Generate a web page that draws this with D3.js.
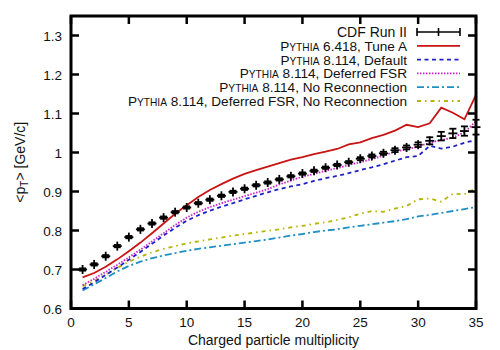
<!DOCTYPE html>
<html><head><meta charset="utf-8">
<script src="https://cdn.jsdelivr.net/npm/d3@7"></script>
<style>body{margin:0;background:#fff}svg{display:block}text{font-family:"Liberation Sans",Arial,sans-serif;fill:#111}</style>
</head><body><svg id="c" width="500" height="350"></svg>
<script>
const mult = d3.range(1, 36);
const cdf = [0.700,0.713,0.734,0.760,0.783,0.803,0.818,0.833,0.847,0.859,0.870,0.879,0.889,0.899,0.907,0.916,0.923,0.931,0.939,0.946,0.953,0.961,0.968,0.975,0.984,0.991,0.998,1.006,1.013,1.020,1.030,1.042,1.049,1.055,1.065];
const cdfErr = [0.003,0.003,0.003,0.003,0.003,0.003,0.003,0.003,0.003,0.003,0.003,0.003,0.003,0.003,0.003,0.003,0.003,0.003,0.003,0.003,0.003,0.003,0.003,0.003,0.004,0.004,0.004,0.005,0.005,0.006,0.009,0.011,0.012,0.012,0.019];
const tuneA = [0.680,0.691,0.707,0.726,0.747,0.769,0.793,0.818,0.843,0.865,0.886,0.904,0.919,0.933,0.945,0.955,0.964,0.973,0.982,0.988,0.996,1.002,1.009,1.021,1.026,1.037,1.045,1.056,1.071,1.065,1.075,1.115,1.102,1.085,1.148];
const def8 = [0.650,0.667,0.686,0.705,0.725,0.745,0.766,0.787,0.807,0.825,0.839,0.851,0.861,0.870,0.880,0.889,0.898,0.906,0.913,0.919,0.927,0.934,0.940,0.947,0.955,0.962,0.970,0.979,0.988,0.991,1.017,1.010,1.015,1.025,1.032];
const dfsr = [0.660,0.676,0.694,0.712,0.731,0.751,0.772,0.793,0.814,0.833,0.848,0.860,0.870,0.879,0.888,0.897,0.906,0.918,0.928,0.938,0.945,0.953,0.960,0.968,0.975,0.983,0.992,1.002,1.008,1.015,1.025,1.032,1.038,1.052,1.080];
const noRec = [0.646,0.662,0.678,0.695,0.709,0.720,0.729,0.736,0.742,0.748,0.753,0.757,0.761,0.765,0.769,0.773,0.777,0.782,0.787,0.791,0.796,0.800,0.803,0.808,0.812,0.816,0.820,0.824,0.829,0.836,0.840,0.845,0.850,0.855,0.860];
const dfsrNoRec = [0.657,0.671,0.687,0.704,0.720,0.733,0.744,0.753,0.760,0.767,0.772,0.777,0.782,0.787,0.791,0.795,0.799,0.803,0.808,0.812,0.817,0.821,0.827,0.834,0.843,0.850,0.848,0.856,0.863,0.880,0.882,0.874,0.894,0.893,0.908];
const xTicks = [0,5,10,15,20,25,30,35];
const yTicks = [0.6,0.7,0.8,0.9,1.0,1.1,1.2,1.3];

const svg = d3.select("#c");
const L = 71, R = 476, T = 16, B = 308.5;
const x = d3.scaleLinear().domain([0, 35]).range([L, R]);
const y = d3.scaleLinear().domain([0.6, 1.35]).range([B, T]);

const series = [
  {vals: tuneA, color: "#c81414", dash: null, label: ["6.418, Tune A"]},
  {vals: def8, color: "#2020c8", dash: "4,3.5", label: ["8.114, Default"]},
  {vals: dfsr, color: "#cc22cc", dash: "1.5,1.5", label: ["8.114, Deferred FSR"]},
  {vals: noRec, color: "#1f8fc4", dash: "7,3,2,3", label: ["8.114, No Reconnection"]},
  {vals: dfsrNoRec, color: "#b4b40a", dash: "4,4,1.5,4", label: ["8.114, Deferred FSR, No Reconnection"]}
];

svg.append("clipPath").attr("id","pc").append("rect")
  .attr("x", L).attr("y", T).attr("width", R-L).attr("height", B-T);
const g = svg.append("g").attr("clip-path","url(#pc)");
const line = d3.line().x((d,i)=>x(mult[i])).y(d=>y(d));
series.slice().reverse().forEach(s=>{
  g.append("path").attr("d", line(s.vals)).attr("fill","none")
   .attr("stroke", s.color).attr("stroke-width", 1.8)
   .attr("stroke-dasharray", s.dash);
});

// CDF data with error bars
const pts = svg.append("g").attr("stroke","#000").attr("stroke-width",1.8).attr("fill","none");
cdf.forEach((v,i)=>{
  const cx = x(mult[i]), cy = y(v);
  const e = Math.abs(y(v+cdfErr[i]) - cy);
  pts.append("line").attr("x1",cx-4.5).attr("x2",cx+4.5).attr("y1",cy).attr("y2",cy);
  pts.append("line").attr("x1",cx).attr("x2",cx).attr("y1",cy-Math.max(e,4.5)).attr("y2",cy+Math.max(e,4.5));
  pts.append("line").attr("x1",cx-3.5).attr("x2",cx+3.5).attr("y1",cy-e).attr("y2",cy-e);
  pts.append("line").attr("x1",cx-3.5).attr("x2",cx+3.5).attr("y1",cy+e).attr("y2",cy+e);
});

// axes: ticks inward on all sides
const ax = svg.append("g");
const tk = 8;
xTicks.forEach(t=>{
  ax.append("line").attr("x1",x(t)).attr("x2",x(t)).attr("y1",B).attr("y2",B-tk).attr("stroke","#000").attr("stroke-width",2.5);
  ax.append("line").attr("x1",x(t)).attr("x2",x(t)).attr("y1",T).attr("y2",T+tk).attr("stroke","#000").attr("stroke-width",2.5);
  ax.append("text").attr("x",x(t)).attr("y",327).attr("text-anchor","middle").attr("font-size",13.5).text(d3.format("d")(t));
});
yTicks.forEach(t=>{
  ax.append("line").attr("x1",L).attr("x2",L+tk).attr("y1",y(t)).attr("y2",y(t)).attr("stroke","#000").attr("stroke-width",2.5);
  ax.append("line").attr("x1",R).attr("x2",R-tk).attr("y1",y(t)).attr("y2",y(t)).attr("stroke","#000").attr("stroke-width",2.5);
  ax.append("text").attr("x",62).attr("y",y(t)+5).attr("text-anchor","end").attr("font-size",13.5).text(d3.format("~g")(t));
});
ax.append("rect").attr("x",L).attr("y",T).attr("width",R-L).attr("height",B-T)
  .attr("fill","none").attr("stroke","#000").attr("stroke-width",3);

// axis titles
svg.append("text").attr("x",(L+R)/2).attr("y",345).attr("text-anchor","middle").attr("font-size",14).text("Charged particle multiplicity");
const yl = svg.append("text").attr("transform",`translate(25,${(T+B)/2}) rotate(-90)`).attr("text-anchor","middle").attr("font-size",14);
yl.append("tspan").text("<p");
yl.append("tspan").attr("font-size",10).attr("dy",3).text("T");
yl.append("tspan").attr("dy",-3).text("> [GeV/c]");

// legend
const lg = svg.append("g");
const lx = 407, sx1 = 417, sx2 = 460, base0 = 37, dy = 13.8;
lg.append("text").attr("x",lx).attr("y",base0).attr("text-anchor","end").attr("font-size",14).text("CDF Run II");
const cyL = base0 - 5;
[[sx1,sx2,cyL,cyL],[sx1,sx1,cyL-4,cyL+4],[sx2,sx2,cyL-4,cyL+4],[(sx1+sx2)/2,(sx1+sx2)/2,cyL-4,cyL+4]].forEach(a=>{
  lg.append("line").attr("x1",a[0]).attr("x2",a[1]).attr("y1",a[2]).attr("y2",a[3]).attr("stroke","#000").attr("stroke-width",1.6);
});
series.forEach((s,i)=>{
  const b = base0 + dy*(i+1);
  const t = lg.append("text").attr("x",lx).attr("y",b).attr("text-anchor","end").attr("font-size",13.6);
  t.append("tspan").text("P");
  t.append("tspan").attr("font-size",10.2).text("YTHIA");
  t.append("tspan").text(" " + s.label[0]);
  lg.append("line").attr("x1",sx1).attr("x2",sx2).attr("y1",b-5).attr("y2",b-5)
    .attr("stroke",s.color).attr("stroke-width",1.8).attr("stroke-dasharray",s.dash);
});
</script></body></html>
